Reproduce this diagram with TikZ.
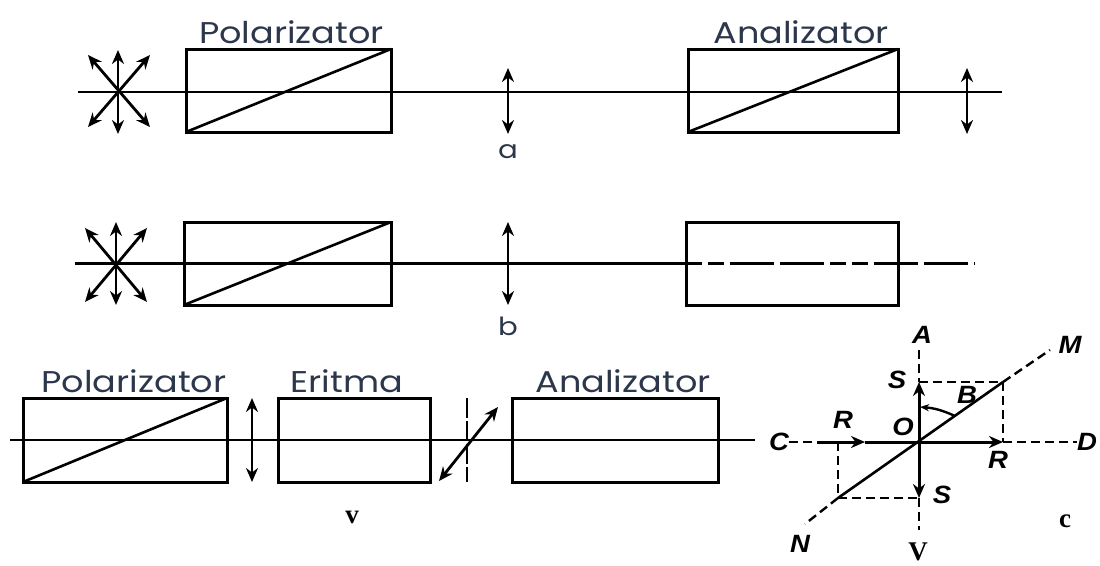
\documentclass[tikz,border=0pt]{standalone}
\usepackage{fontspec}
\setsansfont[FakeStretch=1.17]{Poppins}
\setmainfont{Liberation Serif}
\newfontfamily\lettfont[FakeStretch=1.1]{Liberation Sans}
\usetikzlibrary{arrows.meta,positioning,calc}
\definecolor{capink}{RGB}{45,55,75}

\begin{document}
\begin{tikzpicture}[x=1pt,y=-1pt,>={Stealth[length=14pt,width=12pt]},
  prism/.style={draw,line width=3pt,inner sep=0pt,outer sep=0pt,anchor=north west},
  axis/.style={line width=1.8pt},
  wedge/.style={line width=2.6pt},
  ray/.style={<->,line width=2.8pt},
  dashline/.style={line width=2.4pt,dash pattern=on 9pt off 5pt},
  title/.style={font=\sffamily\fontsize{30}{30}\selectfont,text=capink,inner sep=0pt},
  sub/.style={font=\sffamily\fontsize{25}{25}\selectfont,text=capink,inner sep=0pt},
  lett/.style={font=\lettfont\bfseries\itshape\fontsize{25}{25}\selectfont,inner sep=0pt},
  tag/.style={font=\bfseries\fontsize{27}{27}\selectfont,inner sep=0pt}]
\useasboundingbox (0,0) rectangle (1100,565);
% row a
\node[prism,minimum width=205pt,minimum height=83pt] (pola) at (186,49) {};
\node[prism,minimum width=210pt,minimum height=83pt] (anaa) at (688,49) {};
\node[title,above=5pt of pola,xshift=3pt] (tpola) {Polarizator};
\node[title,above=5pt of anaa,xshift=8pt] (tanaa) {Analizator};
\coordinate (aleft) at (78,92); \coordinate (aright) at (1002,92);
\draw[axis] (aleft) -- (aright);
\draw[wedge] (pola.south west) -- (pola.north east);
\draw[wedge] (anaa.south west) -- (anaa.north east);
\foreach \x/\n in {508/la,967/lb} {
  \coordinate (\n t) at (\x,68); \coordinate (\n b) at (\x,134);
  \draw[ray] (\n t) -- (\n b);
}
\draw[ray] (118,50) -- (118,134);
\draw[ray] (88,55) -- (150,127);
\draw[ray] (150,55) -- (88,127);
\node[sub] (ta) at (508,152) {a};
% row b
\node[prism,minimum width=207pt,minimum height=83pt] (polb) at (184,222) {};
\node[prism,minimum width=212pt,minimum height=83pt] (anab) at (686,222) {};
\coordinate (bleft) at (75,263.5); \coordinate (bright) at (975,263.5);
\draw[line width=2.4pt] (bleft) -- (anab.west);
\draw[line width=2.2pt,dash pattern=on 16pt off 6pt on 16pt off 6pt on 44pt off 6pt on 44pt off 6pt] (anab.west) -- (bright);
\draw[wedge] (polb.south west) -- (polb.north east);
\draw[ray] (508,222) -- (508,305);
\draw[ray] (116,222) -- (116,305);
\draw[ray] (85,228) -- (147,302);
\draw[ray] (147,228) -- (85,302);
\node[sub] (tb) at (508,326) {b};
% row v
\node[prism,minimum width=204pt,minimum height=84pt] (polv) at (23,398) {};
\node[prism,minimum width=152pt,minimum height=84pt] (eri) at (278,398) {};
\node[prism,minimum width=206pt,minimum height=84pt] (anav) at (512,398) {};
\node[title,above=5pt of polv,xshift=9pt] (tpolv) {Polarizator};
\node[title,above=5pt of eri,xshift=-7pt] (teri) {Eritma};
\node[title,above=5pt of anav,xshift=8pt] (tanav) {Analizator};
\node[lett] (tC) at (779,442) {C};
\coordinate (vleft) at (10,440); \coordinate (vright) at (755,440);
\draw[axis] (vleft) -- (vright);
\draw[wedge] (polv.south west) -- (polv.north east);
\draw[ray] (252,398) -- (252,482);
\draw[line width=1.8pt,dash pattern=on 20pt off 3pt] (467,398) -- (467,482);
\draw[ray] (439,481) -- (498,407);
\node[tag] (tv) at (352,517) {v};
% vector diagram
\coordinate (O) at (919,442);
\coordinate (Stop) at (919,382); \coordinate (Sbot) at (919,498);
\coordinate (Rr) at (1003,442); \coordinate (Rl) at (838,442);
\coordinate (Rs) at (817,442); \coordinate (Rh) at (865,442);
\coordinate (P) at (1003,382); \coordinate (Q) at (838,498);
\coordinate (Ve) at (919,530); \coordinate (Ae) at (919,350);
\coordinate (Me) at (1050,350); \coordinate (Ne) at (805,524);
\coordinate (Aa) at (920,407); \coordinate (Ab) at (955,416);
\node[lett] (tA) at (922,335) {A};
\node[lett] (tD) at (1087,442) {D};
\node[lett] (tM) at (1070,345) {M};
\node[lett] (tN) at (800,544) {N};
\node[lett] (tSa) at (897,380) {S};
\node[lett] (tSb) at (942,495) {S};
\node[lett] (tRa) at (843,420) {R};
\node[lett] (tRb) at (998,460) {R};
\node[lett] (tO) at (903,427) {O};
\node[lett] (tB) at (967,395) {B};
\draw[dashline] (Ae) -- (Stop);
\draw[dashline] (Sbot) -- (Ve);
\draw[dashline] (Rr) -- (tD.west);
\draw[dashline] (tC.east) -- (Rs);
\draw[dashline] (P) -- (Me);
\draw[dashline] (Q) -- (Ne);
\draw[dashline] (Stop) -- (P) -- (Rr);
\draw[dashline] (Rl) -- (Q) -- (Sbot);
\draw[wedge] (Q) -- (P);
\draw[->,line width=3pt] (O) -- (Stop);
\draw[->,line width=3pt] (O) -- (Sbot);
\draw[->,line width=3pt] (O) -- (Rr);
\draw[line width=3pt] (O) -- (Rh);
\draw[->,line width=3pt] (Rs) -- (Rh);
\draw[line width=2.4pt,{Stealth[length=9pt,width=7pt]}-] (Aa) to[bend left=10] (Ab);
\node[tag] (tVV) at (918,552) {V};
\node[tag] (tc) at (1065,521) {c};
\end{tikzpicture}
\end{document}
